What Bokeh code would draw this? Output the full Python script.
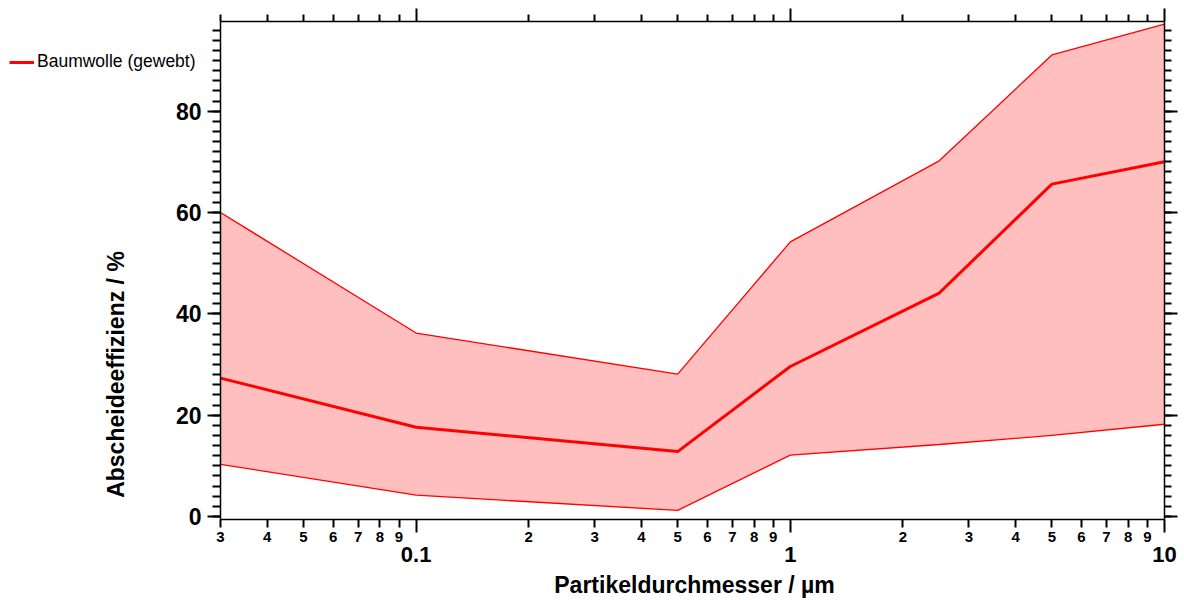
import math
from bokeh.plotting import figure
from bokeh.models import (LogAxis, LinearAxis, FixedTicker, SingleIntervalTicker,
                          Legend, LegendItem, ColumnDataSource, LogScale, Label)
from bokeh.embed import file_html
from bokeh.resources import INLINE

# ---- data ----
diameter_um = [0.03, 0.1, 0.5, 1.0, 2.5, 5.0, 10.0]
efficiency_mean = [27.3, 17.6, 12.8, 29.6, 44.1, 65.6, 70.0]
efficiency_upper = [60.0, 36.2, 28.1, 54.2, 70.2, 91.1, 97.2]
efficiency_lower = [10.3, 4.2, 1.2, 12.1, 14.2, 16.0, 18.2]
series_label = "Baumwolle (gewebt)"
x_title = "Partikeldurchmesser / µm"
y_title = "Abscheideeffizienz / %"

x_lo, x_hi = 0.03, 10.0
y_lo, y_hi = -0.6, 97.7
decade_ticks = [0.1, 1.0, 10.0]
decade_labels = ["0.1", "1", "10"]
mantissa_ticks = [m * d for d in [0.01, 0.1, 1.0] for m in range(2, 10) if m * d >= x_lo - 1e-9]
y_major = [0, 20, 40, 60, 80]

FONT = "Liberation Sans"
RED = "#FF0000"
FILL = "#FFBFBF"

# ---- layout (pixels) ----
W, H = 1184, 600
BOX_LEFT, BOX_RIGHT = 220, 1164
BOX_TOP, BOX_BOTTOM = 21, 519
# the frame covers the canvas around the visible box (left, right, below), so texts there are not clipped
dec_span = math.log10(x_hi / x_lo)
px_per_dec = (BOX_RIGHT - BOX_LEFT) / dec_span
x_start = x_lo / 10 ** (BOX_LEFT / px_per_dec)
x_end = x_hi * 10 ** ((W - BOX_RIGHT) / px_per_dec)
y_start = y_lo - (H - BOX_BOTTOM) * (y_hi - y_lo) / (BOX_BOTTOM - BOX_TOP)

p = figure(width=W, height=H, x_axis_type=None, y_axis_type=None,
           x_range=(x_start, x_end), y_range=(y_start, y_hi),
           output_backend="svg", toolbar_location=None,
           min_border_left=0, min_border_right=0,
           min_border_top=BOX_TOP, min_border_bottom=0)
p.x_scale = LogScale()
p.grid.visible = False
p.outline_line_color = None
p.background_fill_color = "white"
p.border_fill_color = "white"

src = ColumnDataSource(dict(x=diameter_um, m=efficiency_mean, u=efficiency_upper, l=efficiency_lower))
p.varea(x="x", y1="l", y2="u", source=src, fill_color=FILL, fill_alpha=1.0)
p.line(x="x", y="u", source=src, line_color=RED, line_width=1.3)
p.line(x="x", y="l", source=src, line_color=RED, line_width=1.3)
mean_r = p.line(x="x", y="m", source=src, line_color=RED, line_width=3)

def style_common(ax):
    ax.axis_line_color = "black"
    ax.axis_line_width = 1.5
    ax.major_tick_line_color = "black"
    ax.major_tick_line_width = 2
    ax.minor_tick_line_color = "black"
    ax.minor_tick_line_width = 2
    ax.major_tick_in = 0
    ax.minor_tick_in = 0
    ax.major_label_text_font = FONT
    ax.major_label_text_font_style = "bold"
    ax.major_label_text_color = "black"

def hide_rule(ax):
    ax.axis_line_color = None
    ax.major_tick_line_color = None
    ax.minor_tick_line_color = None
    ax.major_tick_out = 0
    ax.minor_tick_out = 0

# bottom axis A: box line + tick marks, at y = y_lo
axA = LogAxis(ticker=FixedTicker(ticks=decade_ticks, minor_ticks=mantissa_ticks),
              bounds=(x_lo, x_hi), fixed_location=y_lo)
style_common(axA)
axA.major_tick_out = 13
axA.minor_tick_out = 8
axA.major_label_overrides = {t: "" for t in decade_ticks}
axA.major_label_text_font_size = "1px"
p.add_layout(axA, "below")

# bottom axis B: mantissa labels
axB = LogAxis(ticker=FixedTicker(ticks=mantissa_ticks, minor_ticks=[]),
              bounds=(x_lo, x_hi), fixed_location=y_lo)
style_common(axB)
hide_rule(axB)
axB.major_label_standoff = 12
axB.major_label_text_font_size = "15px"
axB.major_label_overrides = {t: str(int(round(t / 10 ** math.floor(math.log10(t) + 1e-9)))) for t in mantissa_ticks}
p.add_layout(axB, "below")

# bottom axis C: decade labels
axC = LogAxis(ticker=FixedTicker(ticks=decade_ticks, minor_ticks=[]),
              bounds=(x_lo, x_hi), fixed_location=y_lo)
style_common(axC)
hide_rule(axC)
axC.major_label_standoff = 27
axC.major_label_text_font_size = "22px"
axC.major_label_overrides = dict(zip(decade_ticks, decade_labels))
p.add_layout(axC, "below")

# top axis
axT = LogAxis(ticker=FixedTicker(ticks=decade_ticks, minor_ticks=mantissa_ticks), bounds=(x_lo, x_hi))
style_common(axT)
axT.major_tick_out = 13
axT.minor_tick_out = 7
axT.major_label_overrides = {t: "" for t in decade_ticks}
axT.major_label_text_font_size = "1px"
axT.major_label_standoff = 0
p.add_layout(axT, "above")

# left axis, drawn at x = x_lo
axL = LinearAxis(ticker=SingleIntervalTicker(interval=20, num_minor_ticks=10),
                 fixed_location=x_lo, bounds=(y_lo, y_hi))
style_common(axL)
axL.major_tick_out = 13
axL.minor_tick_out = 8
axL.major_label_text_font_size = "23px"
axL.major_label_standoff = 6
p.add_layout(axL, "left")

# right axis, drawn at x = x_hi
axR = LinearAxis(ticker=SingleIntervalTicker(interval=20, num_minor_ticks=10),
                 fixed_location=x_hi, bounds=(y_lo, y_hi))
style_common(axR)
axR.major_tick_out = 13
axR.minor_tick_out = 7
axR.major_label_text_font_size = "1px"
axR.major_label_overrides = {v: "" for v in y_major}
axR.major_label_standoff = 0
p.add_layout(axR, "right")

# axis titles
p.add_layout(Label(x=694, y=H - 584, x_units="screen", y_units="screen", text=x_title,
                   text_font=FONT, text_font_style="bold", text_font_size="23px",
                   text_align="center", text_baseline="middle", text_color="black"))
p.add_layout(Label(x=115, y=H - 374, x_units="screen", y_units="screen", text=y_title,
                   angle=math.pi / 2,
                   text_font=FONT, text_font_style="bold", text_font_size="23px",
                   text_align="center", text_baseline="middle", text_color="black"))

legend = Legend(items=[LegendItem(label=series_label, renderers=[mean_r])],
                location=(9, H - 72), padding=0, margin=0, spacing=0,
                glyph_width=25, glyph_height=20, label_standoff=3,
                label_text_font=FONT, label_text_font_size="17.5px",
                label_text_color="black",
                background_fill_alpha=0, border_line_color=None)
p.add_layout(legend, "center")

open("out.html", "w").write(file_html(p, INLINE))
